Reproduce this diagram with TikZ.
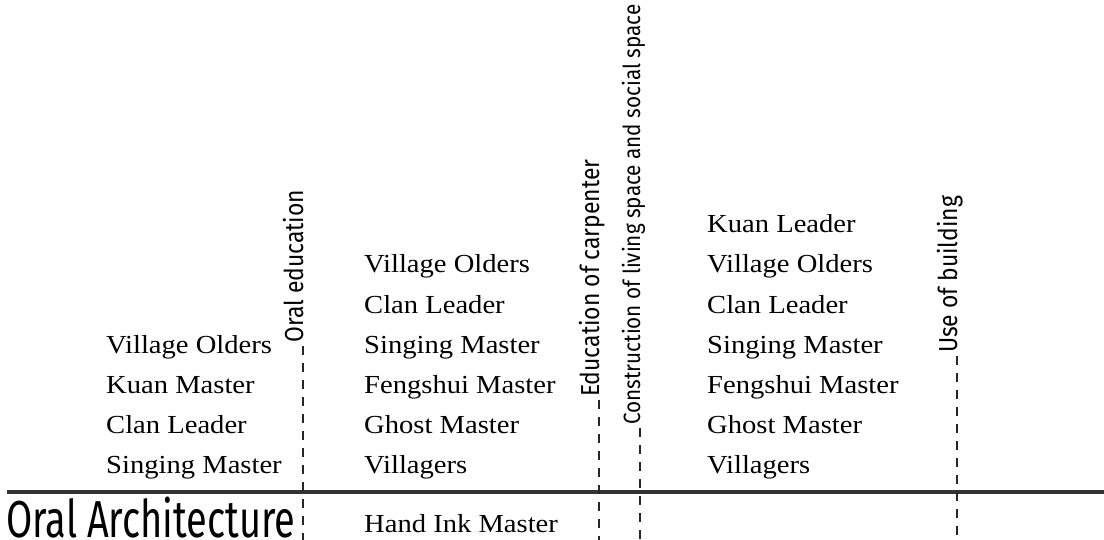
\documentclass[tikz,border=0pt]{standalone}
\usepackage{fontspec}
\setmainfont[FakeStretch=1.1]{Liberation Serif}
\newfontfamily\condfont[FakeStretch=0.88]{Fira Sans}
\newfontfamily\titlefont[FakeStretch=0.73]{Fira Sans}
\tikzset{
  person/.style={anchor=base west, inner sep=0pt, font=\fontsize{26}{26}\selectfont},
  topic/.style={anchor=base west, rotate=90, inner sep=0pt, font=\condfont\fontsize{26}{26}\selectfont},
  guide/.style={dash pattern=on 9pt off 8pt, line width=1.6pt, black!85},
}
\begin{document}
\begin{tikzpicture}[x=1pt, y=-1pt]
                \useasboundingbox (0, 0) rectangle (1104, 540);
                % ground line and title
                \coordinate (gl) at (7, 492);
                \coordinate (gr) at (1104, 492);
                \draw [line width=3.5pt, black!80] (gl) -- (gr);
                \node [anchor=base west, inner sep=0pt, font=\titlefont\fontsize{52}{52}\selectfont] (title) at (6, 537) {Oral Architecture};
                % topics on dashed guides
                \node [topic] (oral) at (303, 343) {Oral education};
                \node [topic] (carp) at (599, 397) {Education of carpenter};
                \node [topic, font=\condfont\fontsize{23.5}{24}\selectfont] (cons) at (640, 425) {Construction of living space and social space};
                \node [topic] (use) at (957, 353) {Use of building};
                \foreach \t/\x in {oral/303, carp/599, cons/640, use/957} {
                    \coordinate (\t-end) at (\x, 540);
                    \draw [guide] (\t.base west) ++(0, 3) -- (\t-end);
                }
                % people
                \foreach \name [count=\i] in {Village Olders, Kuan Master, Clan Leader, Singing Master}
                    \node [person] (a\i) at (106, 313 + 40*\i) {\name};
                \foreach \name [count=\i] in {Village Olders, Clan Leader, Singing Master, Fengshui Master, Ghost Master, Villagers}
                    \node [person] (b\i) at (364, 233 + 40*\i) {\name};
                \node [person] (b7) at (364, 532) {Hand Ink Master};
                \foreach \name [count=\i] in {Kuan Leader, Village Olders, Clan Leader, Singing Master, Fengshui Master, Ghost Master, Villagers}
                    \node [person] (c\i) at (707, 193 + 40*\i) {\name};
\end{tikzpicture}
\end{document}
